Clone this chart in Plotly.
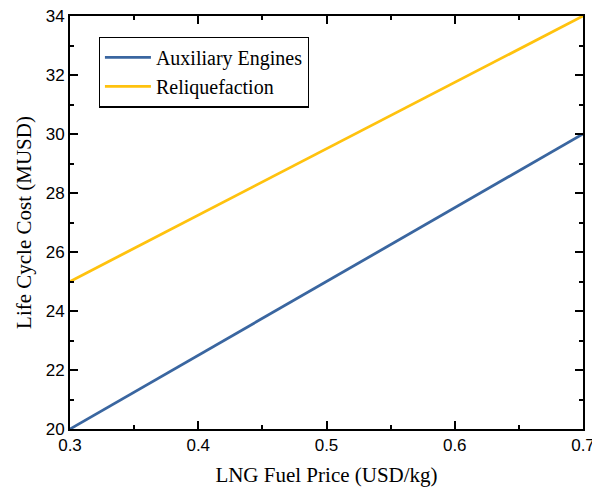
import plotly.graph_objects as go

fuel_price = [0.3, 0.4, 0.5, 0.6, 0.7]
aux_engines = [20.0, 22.5, 25.0, 27.5, 30.0]
reliquefaction = [25.0, 27.25, 29.5, 31.75, 34.0]

x_ticks = [0.3, 0.4, 0.5, 0.6, 0.7]
x_ticktext = ["0.3", "0.4", "0.5", "0.6", "0.7"]
y_ticks = [20, 22, 24, 26, 28, 30, 32, 34]

fig = go.Figure()
fig.add_trace(go.Scatter(x=fuel_price, y=aux_engines, mode="lines", name="Auxiliary Engines",
                         line=dict(color="#3A66A0", width=2.8)))
fig.add_trace(go.Scatter(x=fuel_price, y=reliquefaction, mode="lines", name="Reliquefaction",
                         line=dict(color="#FFC20E", width=2.8)))

serif = "Liberation Serif, Times New Roman, serif"
sans = "Arial, Liberation Sans, sans-serif"

axis_common = dict(showline=True, linecolor="black", linewidth=1.8, mirror="ticks",
                   ticks="inside", ticklen=8, tickwidth=1.6, tickcolor="black",
                   showgrid=False, zeroline=False, automargin=False,
                   ticklabeloverflow="allow",
                   tickfont=dict(family=sans, size=17, color="black"))

fig.update_layout(
    width=600, height=490,
    margin=dict(l=62, r=25, t=8, b=69),
    plot_bgcolor="white", paper_bgcolor="white",
    xaxis=dict(range=[0.3, 0.7], tickvals=x_ticks, ticktext=x_ticktext,
               title=dict(text="LNG Fuel Price (USD/kg)", font=dict(family=serif, size=21, color="black"), standoff=13),
               minor=dict(ticks="inside", ticklen=4, tickwidth=1.6, tickcolor="black", dtick=0.05, tick0=0.3),
               **axis_common),
    yaxis=dict(range=[20, 34], tickvals=y_ticks,
               title=dict(text="Life Cycle Cost (MUSD)", font=dict(family=serif, size=21, color="black"), standoff=8),
               minor=dict(ticks="inside", ticklen=4, tickwidth=1.6, tickcolor="black", dtick=1, tick0=20),
               **axis_common),
    legend=dict(x=0.056, y=0.95, xanchor="left", yanchor="top",
                bordercolor="black", borderwidth=1.2, bgcolor="white",
                font=dict(family=serif, size=20, color="black"),
                tracegroupgap=0, itemwidth=46),
    showlegend=True,
)

fig.write_html("out.html")
